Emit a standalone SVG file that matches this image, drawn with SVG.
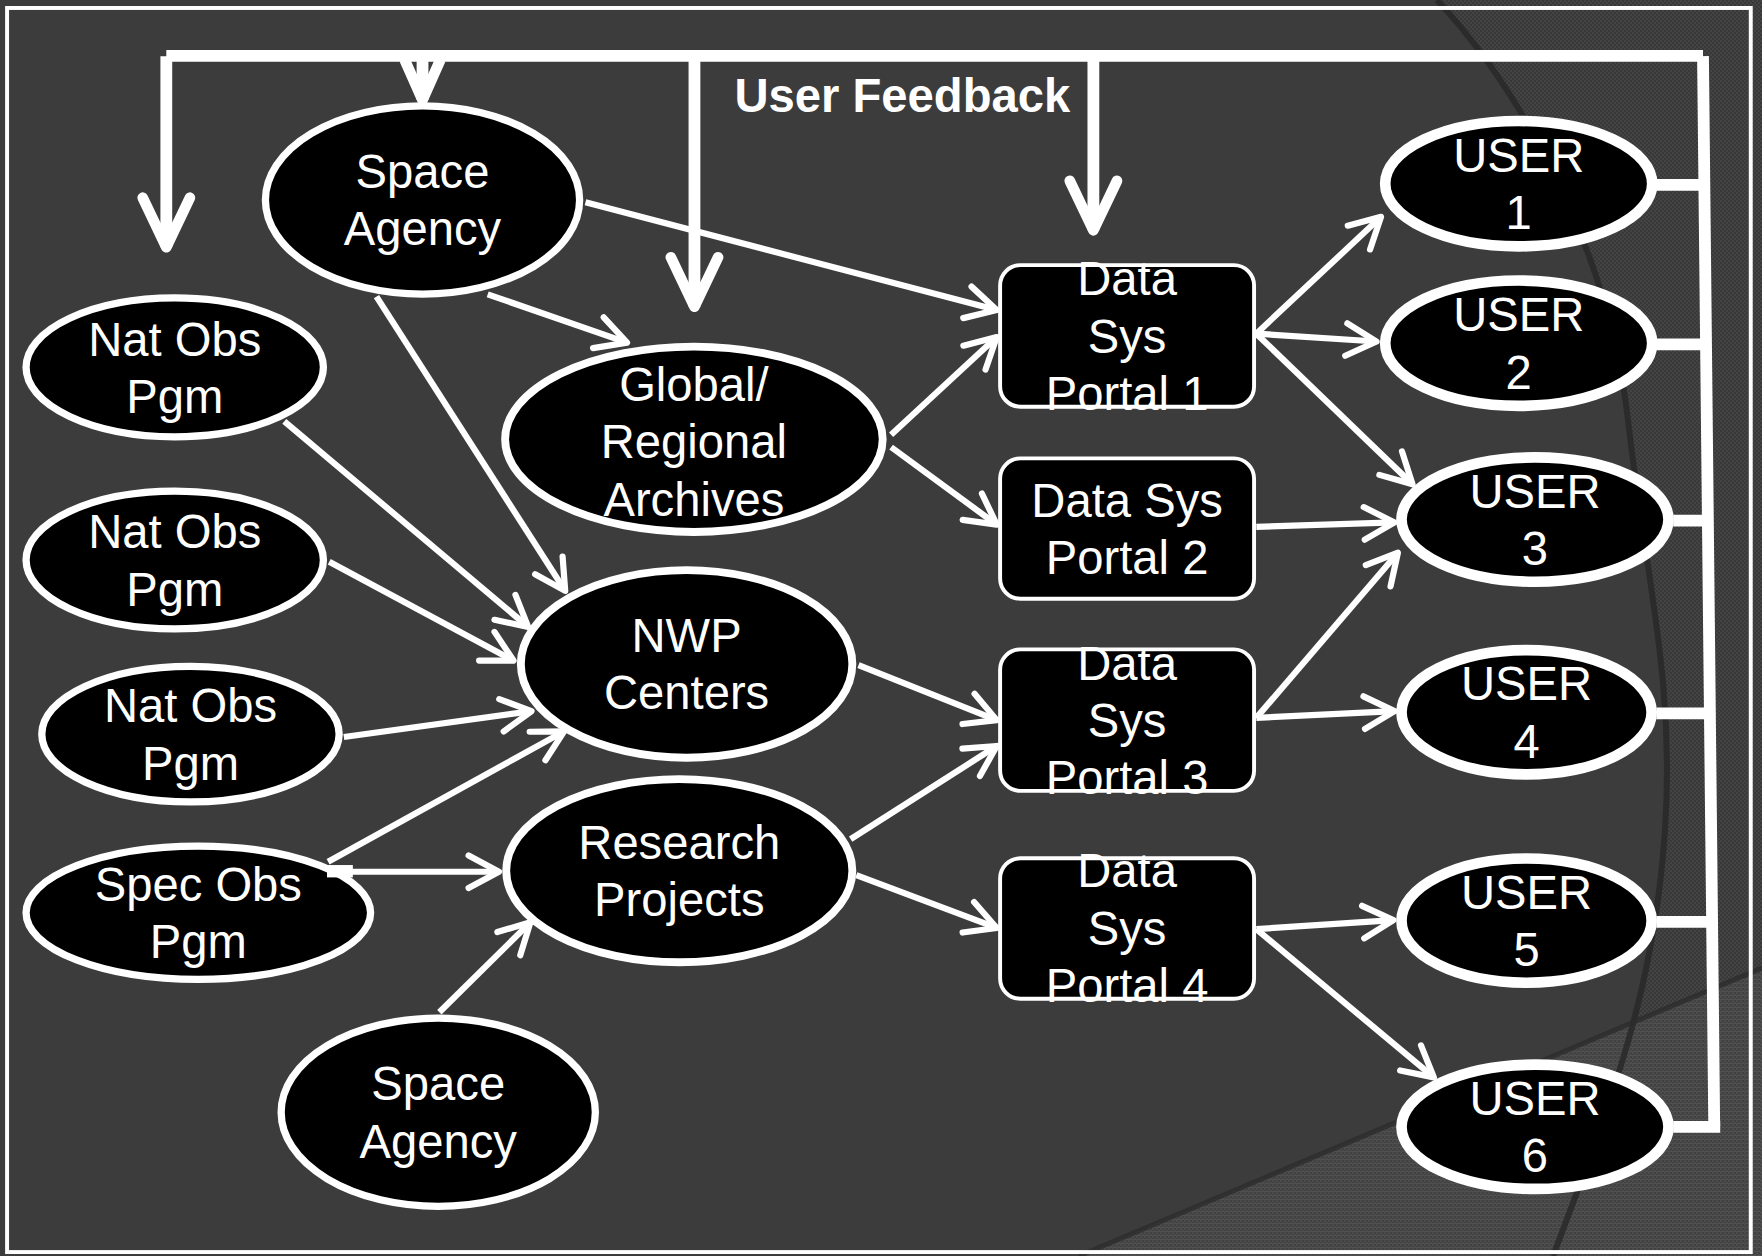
<svg xmlns="http://www.w3.org/2000/svg" width="1762" height="1256" viewBox="0 0 1762 1256">
  <defs>
    <style>
      .shape { fill: #000; stroke: #fff; }
      .src { stroke-width: 6.5; }
      .mid { stroke-width: 7; }
      .usr { stroke-width: 9.5; }
      .box { stroke-width: 3.5; }
      .lbl { font-family: "Liberation Sans", Arial, Helvetica, sans-serif; font-size: 42px; fill: #fff; text-anchor: middle; }
      .title { font-weight: bold; }
      .flow { fill: none; stroke: #fff; stroke-width: 5.5; marker-end: url(#ah); }
      .fb { fill: none; stroke: #fff; stroke-width: 10.5; stroke-linecap: butt; }
      .fbdrop { marker-end: url(#fbh); }
      .fbshort { marker-end: url(#fbhs); }
    </style>
    <!-- fine woven texture used by the decorative background swooshes -->
    <pattern id="weave" width="4" height="4" patternUnits="userSpaceOnUse">
      <rect width="4" height="4" fill="#383838"/>
      <rect width="2" height="2" fill="#444"/>
      <rect x="2" y="2" width="2" height="2" fill="#444"/>
    </pattern>
    <pattern id="weaveLight" width="4" height="4" patternUnits="userSpaceOnUse">
      <rect width="4" height="4" fill="#424242"/>
      <rect width="2" height="2" fill="#4e4e4e"/>
      <rect x="2" y="2" width="2" height="2" fill="#4e4e4e"/>
      <rect y="3" width="4" height="1" fill="#525252"/>
    </pattern>
    <!-- open chevron heads -->
    <marker id="ah" markerUnits="userSpaceOnUse" markerWidth="40" markerHeight="40" refX="0" refY="0" orient="auto" overflow="visible">
      <path d="M-27,-14.5 L0,0 L-27,14.5" fill="none" stroke="#fff" stroke-width="5.5" stroke-linecap="round" stroke-linejoin="round"/>
    </marker>
    <marker id="fbh" markerUnits="userSpaceOnUse" markerWidth="60" markerHeight="60" refX="0" refY="0" orient="auto" overflow="visible">
      <path d="M-44,-21 L0,0 L-44,21" fill="none" stroke="#fff" stroke-width="9.5" stroke-linecap="round" stroke-linejoin="round"/>
    </marker>
    <marker id="fbhs" markerUnits="userSpaceOnUse" markerWidth="60" markerHeight="60" refX="0" refY="0" orient="auto" overflow="visible">
      <path d="M-36,-16 L0,0 L-36,16" fill="none" stroke="#fff" stroke-width="9.5" stroke-linecap="butt" stroke-linejoin="round"/>
    </marker>
  </defs>

  <!-- slide background -->
  <rect width="1762" height="1256" fill="#3c3c3c"/>
  <g id="backdrop">
    <path d="M1437,0 C1530,100 1610,260 1628,420 S1675,680 1665,830 S1620,1080 1553,1256 L1762,1256 L1762,0 Z" fill="url(#weave)"/>
    <path d="M1079,1256 L1762,968 L1762,1256 Z" fill="url(#weaveLight)" opacity="0.85"/>
    <path d="M1437,0 C1530,100 1610,260 1628,420 S1675,680 1665,830 S1620,1080 1553,1256" fill="none" stroke="#272727" stroke-width="6" opacity="0.8"/>
    <path d="M1079,1256 L1762,968" fill="none" stroke="#2c2c2c" stroke-width="5" opacity="0.8"/>
  </g>

  <g transform="scale(1.12372,1.12343)">
    <!-- outer frame -->
    <rect id="frame" x="6.3" y="7.1" width="1551.7" height="1107.4" fill="none" stroke="#fff" stroke-width="3.5"/>

    <!-- nodes -->
    <g id="space-agency-top">
      <ellipse class="shape src" cx="376" cy="178" rx="139.8" ry="83.8"/>
      <text class="lbl"><tspan x="376" y="167.5">Space</tspan><tspan x="376" y="218.5">Agency</tspan></text>
    </g>
    <g id="nat-obs-1">
      <ellipse class="shape src" cx="155.5" cy="327" rx="132.3" ry="61.8"/>
      <text class="lbl"><tspan x="155.5" y="316.5">Nat Obs</tspan><tspan x="155.5" y="367.5">Pgm</tspan></text>
    </g>
    <g id="nat-obs-2">
      <ellipse class="shape src" cx="155.5" cy="498.5" rx="132.3" ry="61.3"/>
      <text class="lbl"><tspan x="155.5" y="488">Nat Obs</tspan><tspan x="155.5" y="539">Pgm</tspan></text>
    </g>
    <g id="nat-obs-3">
      <ellipse class="shape src" cx="169.5" cy="653.5" rx="132.3" ry="60.3"/>
      <text class="lbl"><tspan x="169.5" y="643">Nat Obs</tspan><tspan x="169.5" y="694">Pgm</tspan></text>
    </g>
    <g id="spec-obs">
      <ellipse class="shape src" cx="176.5" cy="812.5" rx="153.3" ry="59.3"/>
      <text class="lbl"><tspan x="176.5" y="802">Spec Obs</tspan><tspan x="176.5" y="853">Pgm</tspan></text>
    </g>
    <g id="space-agency-bottom">
      <ellipse class="shape src" cx="390" cy="990" rx="139.8" ry="83.8"/>
      <text class="lbl"><tspan x="390" y="979.5">Space</tspan><tspan x="390" y="1030.5">Agency</tspan></text>
    </g>
    <g id="archives">
      <ellipse class="shape mid" cx="617.5" cy="391" rx="168" ry="82.5"/>
      <text class="lbl"><tspan x="617.5" y="357">Global/</tspan><tspan x="617.5" y="408">Regional</tspan><tspan x="617.5" y="459">Archives</tspan></text>
    </g>
    <g id="nwp">
      <ellipse class="shape mid" cx="611" cy="591" rx="147.5" ry="83.5"/>
      <text class="lbl"><tspan x="611" y="580.5">NWP</tspan><tspan x="611" y="631.5">Centers</tspan></text>
    </g>
    <g id="research">
      <ellipse class="shape mid" cx="604.5" cy="775" rx="154" ry="81.5"/>
      <text class="lbl"><tspan x="604.5" y="764.5">Research</tspan><tspan x="604.5" y="815.5">Projects</tspan></text>
    </g>

    <g id="portal-1">
      <rect class="shape box" x="890" y="236" width="226" height="126" rx="18"/>
      <text class="lbl"><tspan x="1003" y="263">Data</tspan><tspan x="1003" y="314">Sys</tspan><tspan x="1003" y="365">Portal 1</tspan></text>
    </g>
    <g id="portal-2">
      <rect class="shape box" x="890" y="408" width="226" height="125" rx="18"/>
      <text class="lbl"><tspan x="1003" y="460">Data Sys</tspan><tspan x="1003" y="511">Portal 2</tspan></text>
    </g>
    <g id="portal-3">
      <rect class="shape box" x="890" y="578" width="226" height="126" rx="18"/>
      <text class="lbl"><tspan x="1003" y="605">Data</tspan><tspan x="1003" y="656">Sys</tspan><tspan x="1003" y="707">Portal 3</tspan></text>
    </g>
    <g id="portal-4">
      <rect class="shape box" x="890" y="764" width="226" height="125" rx="18"/>
      <text class="lbl"><tspan x="1003" y="790">Data</tspan><tspan x="1003" y="841">Sys</tspan><tspan x="1003" y="892">Portal 4</tspan></text>
    </g>

    <g id="user-1">
      <ellipse class="shape usr" cx="1351.5" cy="163.5" rx="118.8" ry="55.8"/>
      <text class="lbl"><tspan x="1351.5" y="153">USER</tspan><tspan x="1351.5" y="204">1</tspan></text>
    </g>
    <g id="user-2">
      <ellipse class="shape usr" cx="1351.5" cy="305.5" rx="118.8" ry="55.8"/>
      <text class="lbl"><tspan x="1351.5" y="295">USER</tspan><tspan x="1351.5" y="346">2</tspan></text>
    </g>
    <g id="user-3">
      <ellipse class="shape usr" cx="1366" cy="462.5" rx="118.8" ry="55.3"/>
      <text class="lbl"><tspan x="1366" y="452">USER</tspan><tspan x="1366" y="503">3</tspan></text>
    </g>
    <g id="user-4">
      <ellipse class="shape usr" cx="1358.5" cy="634" rx="111.3" ry="55.3"/>
      <text class="lbl"><tspan x="1358.5" y="623.5">USER</tspan><tspan x="1358.5" y="674.5">4</tspan></text>
    </g>
    <g id="user-5">
      <ellipse class="shape usr" cx="1358.5" cy="819.5" rx="111.3" ry="55.3"/>
      <text class="lbl"><tspan x="1358.5" y="809">USER</tspan><tspan x="1358.5" y="860">5</tspan></text>
    </g>
    <g id="user-6">
      <ellipse class="shape usr" cx="1366" cy="1003" rx="118.8" ry="55.3"/>
      <text class="lbl"><tspan x="1366" y="992.5">USER</tspan><tspan x="1366" y="1043.5">6</tspan></text>
    </g>

    <!-- connectors -->
    <g id="connectors">
      <!-- data flows -->
      <path class="flow" d="M521,180 L887,276"/>
      <path class="flow" d="M434,262 L558,305"/>
      <path class="flow" d="M335,264 L503,526"/>
      <path class="flow" d="M253,375 L470,558"/>
      <path class="flow" d="M293,500 L457,588"/>
      <path class="flow" d="M306,656 L473,633"/>
      <path class="flow" d="M292,767 L502,651"/>
      <rect x="291" y="770" width="23" height="11" fill="#fff"/>
      <path class="flow" d="M291,776 L444,776"/>
      <path class="flow" d="M391,901 L472,821"/>
      <path class="flow" d="M793,387 L887,300"/>
      <path class="flow" d="M793,398 L887,467"/>
      <path class="flow" d="M764,592 L887,641"/>
      <path class="flow" d="M757,747 L887,664"/>
      <path class="flow" d="M762,779 L887,826"/>
      <path class="flow" d="M1118,297 L1229,193"/>
      <path class="flow" d="M1118,297 L1225,304"/>
      <path class="flow" d="M1118,297 L1257,431"/>
      <path class="flow" d="M1118,469 L1241,465"/>
      <path class="flow" d="M1118,639 L1244,492"/>
      <path class="flow" d="M1118,639 L1241,633"/>
      <path class="flow" d="M1118,827 L1240,819"/>
      <path class="flow" d="M1118,827 L1276,959"/>

      <!-- user feedback loop -->
      <path class="fb" d="M148,49.8 H1515.5"/>
      <path class="fb fbdrop" d="M148,50 V220"/>
      <path class="fb fbshort" d="M376,50 V89"/>
      <path class="fb fbdrop" d="M618,50 V273"/>
      <path class="fb fbdrop" d="M973,50 V205"/>
      <path class="fb" d="M1515.5,50 L1525.5,1003"/>
      <path class="fb" d="M1474,164.5 H1517"/>
      <path class="fb" d="M1474,306.5 H1518.5"/>
      <path class="fb" d="M1489,463.5 H1520"/>
      <path class="fb" d="M1474,635 H1522"/>
      <path class="fb" d="M1474,820.5 H1524"/>
      <path class="fb" d="M1489,1003 H1530.8"/>
    </g>

    <text id="feedback-label" class="lbl title" x="803" y="99.5">User Feedback</text>
  </g>
</svg>
